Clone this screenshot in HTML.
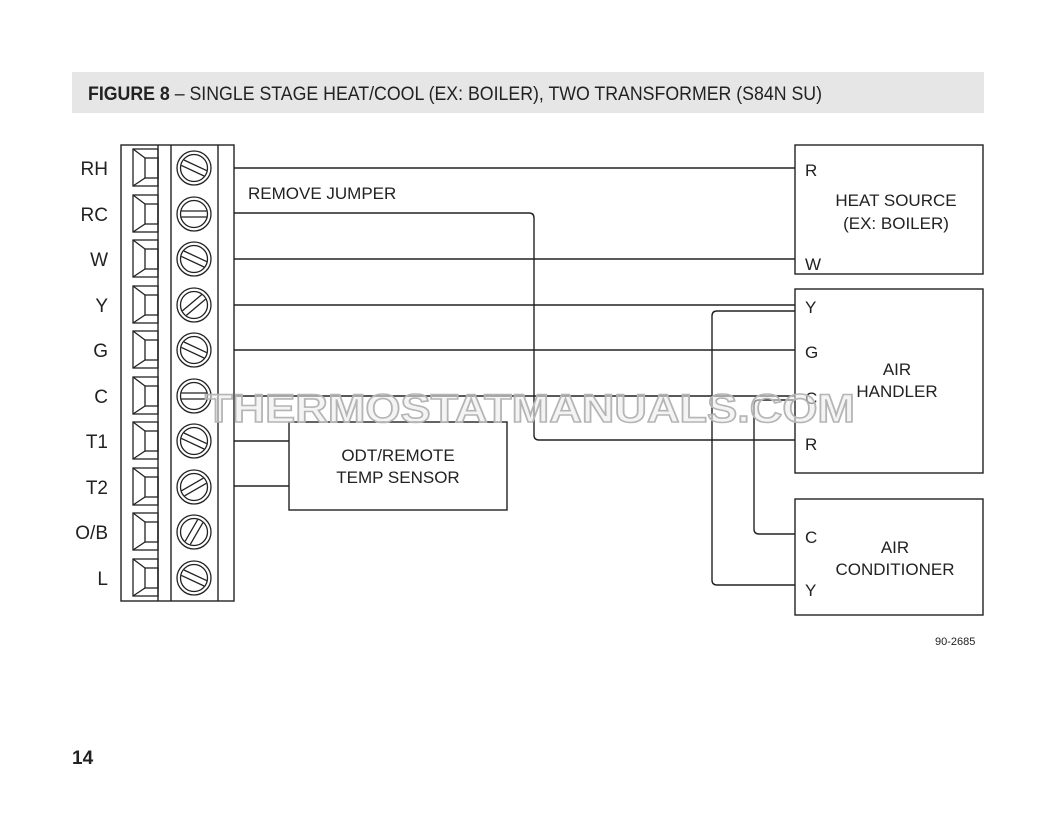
<!DOCTYPE html>
<html><head><meta charset="utf-8"><style>
html,body{margin:0;padding:0;background:#fff;}
svg{display:block;}
text{font-family:"Liberation Sans",sans-serif;fill:#222;}
</style></head><body>
<svg width="1056" height="816" viewBox="0 0 1056 816" xmlns="http://www.w3.org/2000/svg" xmlns:xlink="http://www.w3.org/1999/xlink">
<defs>
<g id="term" stroke="#222" stroke-width="1.3" fill="none">
<rect x="133" y="-19" width="25" height="37"/>
<rect x="145" y="-10" width="13" height="20"/>
<line x1="133" y1="-19" x2="145" y2="-10"/>
<line x1="133" y1="18" x2="145" y2="10"/>
<circle cx="194" cy="0" r="17"/>
<circle cx="194" cy="0" r="13.5"/>
</g>
<g id="slot" stroke="#222" stroke-width="1.3" fill="none">
<line x1="-12.5" y1="-3" x2="12.5" y2="-3"/>
<line x1="-12.5" y1="3" x2="12.5" y2="3"/>
</g>
</defs>
<rect x="72" y="72" width="912" height="41" fill="#e6e6e6"/>
<text x="88" y="100" font-size="19" textLength="734" lengthAdjust="spacingAndGlyphs"><tspan font-weight="bold">FIGURE 8</tspan> – SINGLE STAGE HEAT/COOL (EX: BOILER), TWO TRANSFORMER (S84N SU)</text>

<g stroke="#222" stroke-width="1.4" fill="none">
<rect x="121" y="145" width="113" height="456"/>
<line x1="158" y1="145" x2="158" y2="601"/>
<line x1="171" y1="145" x2="171" y2="601"/>
<line x1="218" y1="145" x2="218" y2="601"/>
<line x1="234" y1="168" x2="795" y2="168"/>
<path d="M234 213 H529 Q534 213 534 218 V435 Q534 440 539 440 H795"/>
<line x1="234" y1="259" x2="795" y2="259"/>
<line x1="234" y1="305" x2="795" y2="305"/>
<line x1="234" y1="350" x2="795" y2="350"/>
<line x1="234" y1="396" x2="795" y2="396"/>
<path d="M795 311 H717 Q712 311 712 316 V580 Q712 585 717 585 H795"/>
<path d="M795 400 H759 Q754 400 754 405 V529 Q754 534 759 534 H795"/>
<line x1="234" y1="441" x2="289" y2="441"/>
<line x1="234" y1="486" x2="289" y2="486"/>
<rect x="289" y="422" width="218" height="88"/>
<rect x="795" y="145" width="188" height="129"/>
<rect x="795" y="289" width="188" height="184"/>
<rect x="795" y="499" width="188" height="116"/>
</g>

<use xlink:href="#term" href="#term" transform="translate(0,168)"/>
<use xlink:href="#term" href="#term" transform="translate(0,214)"/>
<use xlink:href="#term" href="#term" transform="translate(0,259)"/>
<use xlink:href="#term" href="#term" transform="translate(0,305)"/>
<use xlink:href="#term" href="#term" transform="translate(0,350)"/>
<use xlink:href="#term" href="#term" transform="translate(0,396)"/>
<use xlink:href="#term" href="#term" transform="translate(0,441)"/>
<use xlink:href="#term" href="#term" transform="translate(0,487)"/>
<use xlink:href="#term" href="#term" transform="translate(0,532)"/>
<use xlink:href="#term" href="#term" transform="translate(0,578)"/>

<use xlink:href="#slot" href="#slot" transform="translate(194,168) rotate(25)"/>
<use xlink:href="#slot" href="#slot" transform="translate(194,214) rotate(0)"/>
<use xlink:href="#slot" href="#slot" transform="translate(194,259) rotate(25)"/>
<use xlink:href="#slot" href="#slot" transform="translate(194,305) rotate(-40)"/>
<use xlink:href="#slot" href="#slot" transform="translate(194,350) rotate(25)"/>
<use xlink:href="#slot" href="#slot" transform="translate(194,396) rotate(0)"/>
<use xlink:href="#slot" href="#slot" transform="translate(194,441) rotate(25)"/>
<use xlink:href="#slot" href="#slot" transform="translate(194,487) rotate(-30)"/>
<use xlink:href="#slot" href="#slot" transform="translate(194,532) rotate(-60)"/>
<use xlink:href="#slot" href="#slot" transform="translate(194,578) rotate(25)"/>

<g font-size="19" text-anchor="end">
<text x="108" y="175">RH</text><text x="108" y="221">RC</text><text x="108" y="266">W</text>
<text x="108" y="312">Y</text><text x="108" y="357">G</text><text x="108" y="403">C</text>
<text x="108" y="448">T1</text><text x="108" y="494">T2</text><text x="108" y="539">O/B</text>
<text x="108" y="585">L</text>
</g>
<g font-size="17">
<text x="248" y="199">REMOVE JUMPER</text>
<text x="398" y="461" text-anchor="middle">ODT/REMOTE</text>
<text x="398" y="483" text-anchor="middle">TEMP SENSOR</text>
<text x="805" y="176">R</text><text x="805" y="270">W</text>
<text x="896" y="206" text-anchor="middle">HEAT SOURCE</text>
<text x="896" y="229" text-anchor="middle">(EX: BOILER)</text>
<text x="805" y="313">Y</text><text x="805" y="358">G</text><text x="805" y="404">C</text><text x="805" y="450">R</text>
<text x="897" y="375" text-anchor="middle">AIR</text>
<text x="897" y="397" text-anchor="middle">HANDLER</text>
<text x="805" y="543">C</text><text x="805" y="596">Y</text>
<text x="895" y="553" text-anchor="middle">AIR</text>
<text x="895" y="575" text-anchor="middle">CONDITIONER</text>
</g>
<text x="935" y="645" font-size="11" fill="#444">90-2685</text>
<text x="72" y="764" font-size="19" font-weight="bold">14</text>

<text x="205" y="422" font-size="40" font-weight="bold" textLength="650" lengthAdjust="spacingAndGlyphs" style="fill:rgba(235,235,235,0.55);stroke:#b5b5b5;stroke-width:1.6">THERMOSTATMANUALS.COM</text>
</svg>
</body></html>
